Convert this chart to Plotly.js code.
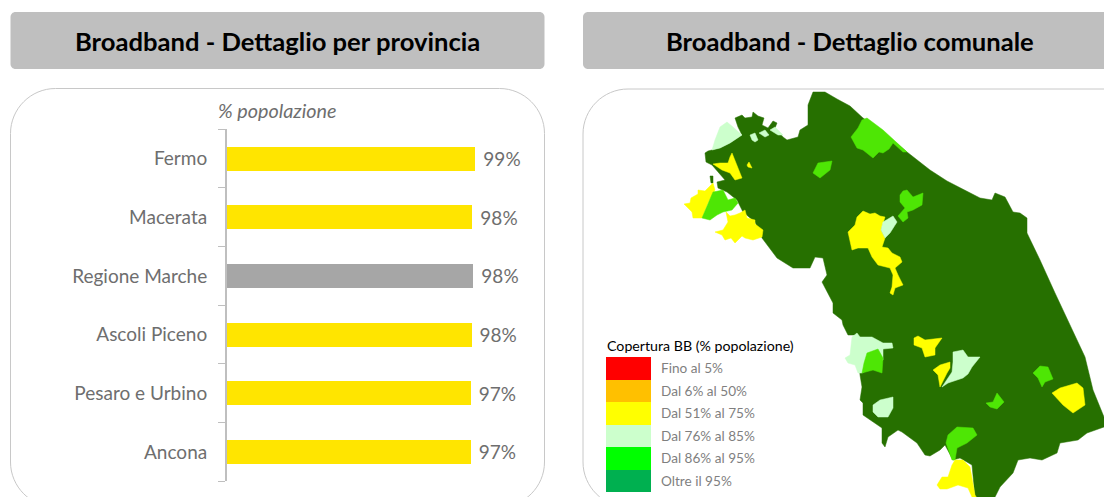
<!DOCTYPE html>
<html><head><meta charset="utf-8">
<script src="https://cdn.plot.ly/plotly-3.0.0.min.js"></script>
<style>html,body{margin:0;padding:0;background:#fff;overflow:hidden}#c{width:1104px;height:497px}</style>
</head><body><div id="c"></div>
<script>
const W = 1104, H = 497;
// Bar chart data
const provinces = ['Ancona','Pesaro e Urbino','Ascoli Piceno','Regione Marche','Macerata','Fermo'];
const coverage  = [97.2,97.2,97.5,98.2,97.8,99];
const barColors = ['#FFE500','#FFE500','#FFE500','#A6A6A6','#FFE500','#FFE500'];
// Legend data
const legendLabels = ['Fino al 5%','Dal 6% al 50%','Dal 51% al 75%','Dal 76% al 85%','Dal 86% al 95%','Oltre il 95%'];
const legendColors = ['#FF0000','#FFC000','#FFFF00','#CCFFCC','#00FF00','#00B050'];
// Map geometry (map units)
const DARK='#267000', BRIGHT='#4EE605', PALE='#CCFFCC', YEL='#FFFF00';
const marcheOutline=[[813,92],[825,92],[837,99],[850,106],[863,118],[883,132],[907,152],[930,170],[947,181],[967,191],[980,198],[992,200],[995,193],[1005,197],[1013,212],[1020,213],[1027,218],[1027,233],[1040,260],[1055,293],[1068,320],[1077,340],[1085,357],[1093,390],[1104,417],[1104,427],[1087,433],[1078,440],[1060,443],[1057,453],[1042,460],[1030,458],[1018,460],[1013,473],[1000,487],[995,497],[975,497],[972,465],[960,458],[953,460],[945,445],[940,450],[930,456],[925,455],[920,447],[917,443],[902,432],[898,430],[888,437],[885,447],[882,443],[882,428],[863,415],[863,403],[860,400],[862,387],[860,375],[857,345],[855,335],[848,335],[843,325],[842,320],[833,313],[833,303],[822,282],[827,275],[823,258],[815,257],[810,268],[793,268],[777,258],[762,238],[755,222],[743,212],[737,200],[727,192],[718,188],[717,182],[725,180],[718,172],[712,165],[706,162],[705,153],[708,151],[720,148],[730,143],[742,135],[738,127],[735,118],[742,115],[745,118],[752,117],[753,112],[758,116],[764,118],[762,125],[768,128],[773,121],[777,123],[775,128],[783,137],[787,140],[798,137],[800,130],[808,125],[808,105]];
const spike=[[710,176],[713,176],[713,183],[711,183]];
const paleNW=[[720,127],[727,122],[733,127],[742,135],[730,143],[720,148],[712,150],[715,140]];
const paleS1=[[750,135],[755,133],[758,140],[755,142],[752,140]];
const paleS2=[[759,133],[765,130],[769,135],[765,137]];
const paleS3=[[770,130],[775,127],[783,135],[778,135]];
const yelN=[[732,153],[734,158],[737,165],[742,178],[735,180],[730,173],[722,170],[713,164],[720,163],[728,163],[730,157]];
const yelN2=[[747,165],[749,162],[752,168],[748,167]];
const yelW=[[684,204],[690,203],[691,198],[698,194],[698,190],[705,191],[709,187],[713,183],[715,190],[708,203],[702,218],[693,218],[692,212],[690,210]];
const brightW=[[702,218],[708,203],[713,192],[723,190],[728,200],[735,198],[738,203],[732,210],[723,212],[717,215],[710,220]];
const yelSW=[[715,232],[723,230],[728,222],[726,212],[730,216],[735,215],[740,213],[745,210],[747,218],[755,220],[755,224],[763,230],[762,237],[753,240],[745,238],[742,236],[735,243],[731,238],[725,240],[722,235]];
const brightNE=[[862,120],[867,118],[883,130],[907,152],[903,152],[893,143],[889,149],[883,153],[879,152],[873,158],[863,150],[857,148],[851,137],[858,128]];
const brightC=[[818,163],[832,161],[830,170],[820,178],[813,173]];
const brightE=[[900,195],[903,191],[907,190],[913,197],[923,193],[922,205],[913,210],[907,212],[908,218],[903,222],[898,216],[905,208],[900,202]];
const yelC=[[857,217],[863,211],[870,214],[875,213],[880,216],[885,217],[881,230],[885,238],[882,247],[888,248],[892,253],[900,257],[902,262],[895,268],[898,275],[903,285],[895,288],[893,295],[890,293],[892,287],[893,275],[890,268],[878,265],[872,257],[868,248],[858,248],[852,250],[850,242],[848,232],[855,225]];
const paleC=[[883,222],[893,216],[897,222],[890,233],[885,238],[881,230]];
const paleW=[[845,358],[850,355],[852,337],[857,333],[860,337],[872,337],[883,343],[892,343],[893,348],[883,349],[883,360],[862,373],[858,373],[855,365],[848,363]];
const brightSW=[[867,353],[878,349],[883,358],[882,373],[873,370],[862,373],[864,363]];
const yelT=[[914,338],[918,336],[925,340],[942,338],[935,348],[935,355],[925,357],[922,348],[914,345]];
const paleE=[[953,352],[963,350],[968,357],[980,357],[972,367],[968,374],[963,378],[948,383],[942,387],[952,372],[953,362]];
const yelE2=[[933,370],[940,365],[950,362],[950,368],[947,373],[943,382],[940,387],[938,375]];
const paleSW=[[873,405],[880,400],[893,397],[893,408],[888,417],[878,417],[873,412]];
const brightF=[[1033,373],[1040,366],[1048,367],[1053,379],[1045,382],[1042,387],[1038,378]];
const yelF=[[1052,393],[1060,388],[1077,383],[1083,388],[1085,405],[1073,413],[1063,405]];
const brightD=[[986,403],[993,402],[997,393],[1004,402],[997,409],[990,407]];
const brightS=[[946,443],[948,435],[957,427],[973,428],[977,435],[967,443],[957,448],[955,460],[952,460],[948,450]];
const yelS=[[937,485],[942,477],[948,477],[952,465],[955,460],[963,460],[970,467],[972,478],[975,495],[977,498],[972,497],[968,488],[958,485],[947,489],[940,489]];
const mapRegions=[[marcheOutline,DARK],[spike,DARK],[paleNW,PALE],[paleS1,PALE],[paleS2,PALE],[paleS3,PALE],[yelN,YEL],[yelN2,YEL],[yelW,YEL],[brightW,BRIGHT],[yelSW,YEL],[brightNE,BRIGHT],[brightC,BRIGHT],[brightE,BRIGHT],[yelC,YEL],[paleC,PALE],[paleW,PALE],[brightSW,BRIGHT],[yelT,YEL],[paleE,PALE],[yelE2,YEL],[paleSW,PALE],[brightF,BRIGHT],[yelF,YEL],[brightD,BRIGHT],[brightS,BRIGHT],[yelS,YEL]];

const FONT='Lato, "Open Sans", sans-serif', GREY='#6E6E6E';
const px=x=>x/W, py=y=>1-y/H;
function roundRect(x0,y0,x1,y1,r){
  const k=r*0.45;
  const P=(x,y)=>px(x)+','+py(y);
  return 'M'+P(x0+r,y0)+' L'+P(x1-r,y0)+' C'+P(x1-k,y0)+' '+P(x1,y0+k)+' '+P(x1,y0+r)+
    ' L'+P(x1,y1-r)+' C'+P(x1,y1-k)+' '+P(x1-k,y1)+' '+P(x1-r,y1)+
    ' L'+P(x0+r,y1)+' C'+P(x0+k,y1)+' '+P(x0,y1-k)+' '+P(x0,y1-r)+
    ' L'+P(x0,y0+r)+' C'+P(x0,y0+k)+' '+P(x0+k,y0)+' '+P(x0+r,y0)+' Z';
}
const traces=[{
  type:'bar',orientation:'h',y:provinces,x:coverage,
  marker:{color:barColors,line:{width:0}},width:0.41,
  texttemplate:'\u00A0%{x:.0f}%',textposition:'outside',cliponaxis:false,constraintext:'none',
  textfont:{family:FONT,size:19,color:GREY},hoverinfo:'skip',xaxis:'x',yaxis:'y'
}];
mapRegions.forEach(([pts,color])=>traces.push({
  type:'scatter',mode:'lines',x:pts.map(p=>p[0]).concat(pts[0][0]),y:pts.map(p=>p[1]).concat(pts[0][1]),
  fill:'toself',fillcolor:color,line:{width:0.5,color:color,shape:'linear'},hoverinfo:'skip',xaxis:'x2',yaxis:'y2'
}));
traces.push({
  type:'bar',orientation:'h',y:legendLabels,x:legendLabels.map(()=>1),
  marker:{color:legendColors,line:{width:0}},width:1,hoverinfo:'skip',xaxis:'x3',yaxis:'y3'
});
const hidden={visible:false,fixedrange:true};
const layout={
  width:W,height:H,margin:{l:0,r:0,t:0,b:0},paper_bgcolor:'#fff',plot_bgcolor:'rgba(0,0,0,0)',
  showlegend:false,bargap:0,font:{family:FONT},
  xaxis:Object.assign({},hidden,{domain:[px(226.5),px(478)],range:[0,100],anchor:'y'}),
  yaxis:{domain:[py(481.3),py(129.3)],type:'category',categoryorder:'array',categoryarray:provinces,anchor:'x',
    showline:true,linecolor:'#BFBFBF',linewidth:1.5,ticks:'outside',ticklen:7,tickcolor:'#BFBFBF',tickwidth:1,
    tickson:'boundaries',ticklabelstandoff:14,tickfont:{family:FONT,size:19,color:GREY},showgrid:false,zeroline:false,fixedrange:true},
  xaxis2:Object.assign({},hidden,{domain:[px(583),1],range:[583,1104],anchor:'y2'}),
  yaxis2:Object.assign({},hidden,{domain:[0,py(85)],range:[497,85],anchor:'x2'}),
  xaxis3:Object.assign({},hidden,{domain:[px(606),px(651)],range:[0,1],anchor:'y3'}),
  yaxis3:{domain:[py(492),py(357)],type:'category',categoryorder:'array',categoryarray:legendLabels.slice().reverse(),anchor:'x3',side:'right',
    showline:false,ticks:'',showgrid:false,zeroline:false,ticklabelstandoff:9,tickfont:{family:FONT,size:13.6,color:'#7F7F7F'},fixedrange:true},
  shapes:[
    {type:'path',xref:'paper',yref:'paper',path:roundRect(10.5,12,544.5,69,5),fillcolor:'#BFBFBF',line:{width:0},layer:'below'},
    {type:'path',xref:'paper',yref:'paper',path:roundRect(583,12,1130,69,5),fillcolor:'#BFBFBF',line:{width:0},layer:'below'},
    {type:'path',xref:'paper',yref:'paper',path:roundRect(10.5,88.5,544.5,507,45),fillcolor:'#FFFFFF',line:{width:1,color:'#C8C8C8'},layer:'below'},
    {type:'path',xref:'paper',yref:'paper',path:roundRect(583,89,1160,507,45),fillcolor:'#FFFFFF',line:{width:1,color:'#C8C8C8'},layer:'below'}
  ],
  annotations:[
    {xref:'paper',yref:'paper',x:px(277),y:py(41),text:'<b>Broadband - Dettaglio per provincia</b>',showarrow:false,xanchor:'center',yanchor:'middle',font:{family:FONT,size:25.6,color:'#000'}},
    {xref:'paper',yref:'paper',x:px(850),y:py(41),text:'<b>Broadband - Dettaglio comunale</b>',showarrow:false,xanchor:'center',yanchor:'middle',font:{family:FONT,size:25.6,color:'#000'}},
    {xref:'paper',yref:'paper',x:px(277.5),y:py(110),text:'% popolazione',showarrow:false,xanchor:'center',yanchor:'middle',font:{family:FONT,size:19.8,color:GREY,style:'italic'}},
    {xref:'paper',yref:'paper',x:px(604.5),y:py(345.5),text:'Copertura BB (% popolazione)',showarrow:false,xanchor:'left',yanchor:'middle',font:{family:FONT,size:14.2,color:'#000'}}
  ]
};
Plotly.newPlot('c',traces,layout,{displayModeBar:false,staticPlot:true});
</script></body></html>
